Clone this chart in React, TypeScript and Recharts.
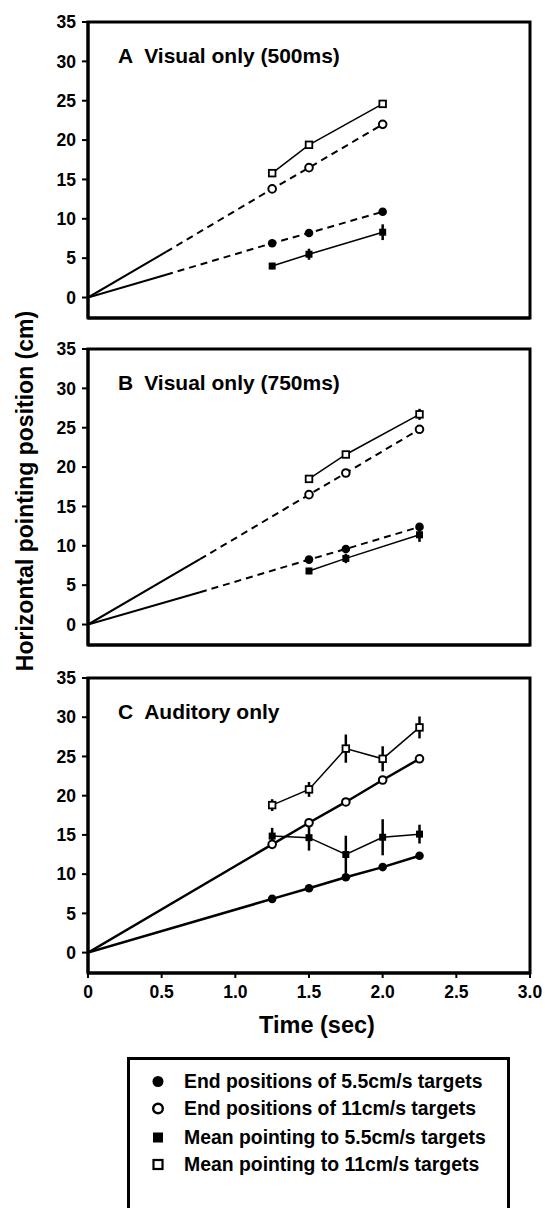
import React from 'react';
import {
  ScatterChart,
  Scatter,
  XAxis,
  YAxis,
  ErrorBar,
  ReferenceArea,
} from 'recharts';

// shared axes
const xTicks = [0, 0.5, 1.0, 1.5, 2.0, 2.5, 3.0];
const yTicks = [0, 5, 10, 15, 20, 25, 30, 35];
const yMin = -2.6;
const yMax = 35;

// A: Visual only (500ms)
const timesA = [1.25, 1.5, 2.0];
const endSlowA = [6.9, 8.2, 10.9];
const endFastA = [13.8, 16.5, 22.0];
const meanSlowA = [4.0, 5.5, 8.3];
const meanSlowErrA = [0.4, 0.7, 1.0];
const meanFastA = [15.8, 19.4, 24.6];
const meanFastErrA = [0.5, 0.3, 0.5];
const viewEndA = 0.53;
const viewSlowA = 2.9;
const viewFastA = 5.8;

// B: Visual only (750ms)
const timesB = [1.5, 1.75, 2.25];
const endSlowB = [8.25, 9.6, 12.4];
const endFastB = [16.5, 19.25, 24.8];
const meanSlowB = [6.8, 8.4, 11.4];
const meanSlowErrB = [0.4, 0.6, 0.9];
const meanFastB = [18.5, 21.6, 26.7];
const meanFastErrB = [0.3, 0.3, 0.7];
const viewEndB = 0.76;
const viewSlowB = 4.1;
const viewFastB = 8.3;

// C: Auditory only
const timesC = [1.25, 1.5, 1.75, 2.0, 2.25];
const endSlowC = [6.85, 8.2, 9.6, 10.9, 12.35];
const endFastC = [13.8, 16.55, 19.2, 22.0, 24.7];
const meanSlowC = [14.85, 14.65, 12.5, 14.7, 15.1];
const meanSlowErrC = [1.05, 1.65, 2.4, 2.3, 1.2];
const meanFastC = [18.8, 20.8, 26.0, 24.7, 28.7];
const meanFastErrC = [0.75, 0.95, 1.8, 1.6, 1.4];

const legendLabels = [
  'End positions of 5.5cm/s targets',
  'End positions of 11cm/s targets',
  'Mean pointing to 5.5cm/s targets',
  'Mean pointing to 11cm/s targets',
];

type Pt = { x: number; y: number; err?: number };
type MarkerKind = 'dot' | 'ring' | 'block' | 'box';

const FONT = '"Liberation Sans", Arial, Helvetica, sans-serif';

const pts = (xs: number[], ys: number[], errs?: number[]): Pt[] =>
  xs.map((x, i) => ({ x, y: ys[i], err: errs ? errs[i] : undefined }));

const marker = (kind: MarkerKind) => (props: any) => {
  const { cx, cy } = props;
  if (cx == null || cy == null) return <g />;
  if (kind === 'dot') return <circle cx={cx} cy={cy} r={4.3} fill="#000" />;
  if (kind === 'ring')
    return <circle cx={cx} cy={cy} r={3.8} fill="#fff" stroke="#000" strokeWidth={2} />;
  if (kind === 'block')
    return <rect x={cx - 3.5} y={cy - 3.5} width={7} height={7} fill="#000" />;
  return (
    <rect x={cx - 3.3} y={cy - 3.3} width={6.6} height={6.6} fill="#fff" stroke="#000" strokeWidth={1.8} />
  );
};

const noMarker = () => <g />;

interface LineDef {
  data: Pt[];
  width: number;
  dash?: string;
}

interface MarkDef {
  data: Pt[];
  kind: MarkerKind;
  line?: number;
  err?: boolean;
}

interface PanelProps {
  letter: string;
  title: string;
  top: number;
  plotHeight: number;
  showXLabels: boolean;
  lines: LineDef[];
  marks: MarkDef[];
}

const Panel: React.FC<PanelProps> = ({ letter, title, top, plotHeight, showXLabels, lines, marks }) => {
  const xAxisHeight = showXLabels ? 40 : 12;
  const height = 22 + plotHeight + xAxisHeight;
  const tickStyle = { fill: '#000', fontSize: 17.5, fontWeight: 700, fontFamily: FONT };

  return (
    <div style={{ position: 'absolute', left: 0, top, width: 545, height }}>
      <ScatterChart width={545} height={height} margin={{ top: 22, right: 15, bottom: 0, left: 0 }}>
        <XAxis
          type="number"
          dataKey="x"
          domain={[0, 3]}
          ticks={xTicks}
          allowDataOverflow
          interval={0}
          height={xAxisHeight}
          tickSize={5}
          tickMargin={8}
          axisLine={{ stroke: '#000', strokeWidth: 3 }}
          tickLine={{ stroke: '#000', strokeWidth: 2 }}
          tick={showXLabels ? tickStyle : false}
          tickFormatter={(v: number) => (v === 0 ? '0' : v.toFixed(1))}
        />
        <YAxis
          type="number"
          dataKey="y"
          domain={[yMin, yMax]}
          ticks={yTicks}
          allowDataOverflow
          interval={0}
          width={88}
          tickSize={6}
          tickMargin={6}
          axisLine={{ stroke: '#000', strokeWidth: 3 }}
          tickLine={{ stroke: '#000', strokeWidth: 2 }}
          tick={tickStyle}
        />
        <ReferenceArea
          x1={0}
          x2={3}
          y1={yMin}
          y2={yMax}
          fill="none"
          stroke="#000"
          strokeWidth={3}
          ifOverflow="visible"
        />
        {lines.map((l, i) => (
          <Scatter
            key={'l' + i}
            data={l.data}
            shape={noMarker}
            isAnimationActive={false}
            line={{ stroke: '#000', strokeWidth: l.width, strokeDasharray: l.dash }}
          />
        ))}
        {marks.map((m, i) => (
          <Scatter
            key={'m' + i}
            data={m.data}
            shape={marker(m.kind)}
            isAnimationActive={false}
            line={m.line ? { stroke: '#000', strokeWidth: m.line } : false}
          >
            {m.err && (
              <ErrorBar dataKey="err" direction="y" width={0} stroke="#000" strokeWidth={2.5} />
            )}
          </Scatter>
        ))}
      </ScatterChart>
      <div
        style={{
          position: 'absolute',
          left: 118,
          top: 44,
          height: 24,
          display: 'flex',
          alignItems: 'center',
          fontFamily: FONT,
          fontWeight: 700,
          fontSize: 21,
          whiteSpace: 'nowrap',
        }}
      >
        <span>{letter}</span>
        <span style={{ marginLeft: 11 }}>{title}</span>
      </div>
    </div>
  );
};

const LegendMarker: React.FC<{ kind: MarkerKind }> = ({ kind }) => (
  <svg width={14} height={14} style={{ display: 'block' }}>
    {kind === 'dot' && <circle cx={7} cy={7} r={5.5} fill="#000" />}
    {kind === 'ring' && <circle cx={7} cy={7} r={4.8} fill="#fff" stroke="#000" strokeWidth={2.4} />}
    {kind === 'block' && <rect x={2} y={2} width={10} height={10} fill="#000" />}
    {kind === 'box' && <rect x={2.5} y={2.5} width={9} height={9} fill="#fff" stroke="#000" strokeWidth={2.2} />}
  </svg>
);

const App: React.FC = () => {
  const origin: Pt = { x: 0, y: 0 };

  const linesA: LineDef[] = [
    { data: [origin, { x: viewEndA, y: viewSlowA }], width: 2 },
    { data: [origin, { x: viewEndA, y: viewFastA }], width: 2 },
    { data: [{ x: viewEndA, y: viewSlowA }, ...pts(timesA, endSlowA)], width: 2, dash: '7 5' },
    { data: [{ x: viewEndA, y: viewFastA }, ...pts(timesA, endFastA)], width: 2, dash: '7 5' },
  ];
  const marksA: MarkDef[] = [
    { data: pts(timesA, meanSlowA, meanSlowErrA), kind: 'block', line: 1.5, err: true },
    { data: pts(timesA, meanFastA, meanFastErrA), kind: 'box', line: 1.5, err: true },
    { data: pts(timesA, endSlowA), kind: 'dot' },
    { data: pts(timesA, endFastA), kind: 'ring' },
  ];

  const linesB: LineDef[] = [
    { data: [origin, { x: viewEndB, y: viewSlowB }], width: 2 },
    { data: [origin, { x: viewEndB, y: viewFastB }], width: 2 },
    { data: [{ x: viewEndB, y: viewSlowB }, ...pts(timesB, endSlowB)], width: 2, dash: '7 5' },
    { data: [{ x: viewEndB, y: viewFastB }, ...pts(timesB, endFastB)], width: 2, dash: '7 5' },
  ];
  const marksB: MarkDef[] = [
    { data: pts(timesB, meanSlowB, meanSlowErrB), kind: 'block', line: 1.5, err: true },
    { data: pts(timesB, meanFastB, meanFastErrB), kind: 'box', line: 1.5, err: true },
    { data: pts(timesB, endSlowB), kind: 'dot' },
    { data: pts(timesB, endFastB), kind: 'ring' },
  ];

  const linesC: LineDef[] = [
    { data: [origin, ...pts(timesC, endSlowC)], width: 2.5 },
    { data: [origin, ...pts(timesC, endFastC)], width: 2.5 },
  ];
  const marksC: MarkDef[] = [
    { data: pts(timesC, endSlowC), kind: 'dot' },
    { data: pts(timesC, endFastC), kind: 'ring' },
    { data: pts(timesC, meanSlowC, meanSlowErrC), kind: 'block', line: 1.5, err: true },
    { data: pts(timesC, meanFastC, meanFastErrC), kind: 'box', line: 1.5, err: true },
  ];

  const legendKinds: MarkerKind[] = ['dot', 'ring', 'block', 'box'];
  const legendRows = [1081, 1108, 1137, 1164];

  return (
    <div
      style={{
        position: 'absolute',
        left: 0,
        top: 0,
        width: 545,
        height: 1208,
        overflow: 'hidden',
        background: '#fff',
        fontFamily: FONT,
      }}
    >
      <Panel letter="A" title="Visual only (500ms)" top={0} plotHeight={296} showXLabels={false} lines={linesA} marks={marksA} />
      <Panel letter="B" title="Visual only (750ms)" top={327} plotHeight={296} showXLabels={false} lines={linesB} marks={marksB} />
      <Panel letter="C" title="Auditory only" top={656} plotHeight={295} showXLabels lines={linesC} marks={marksC} />

      {/* y axis title */}
      <div
        style={{
          position: 'absolute',
          left: 25,
          top: 491,
          transform: 'translate(-50%, -50%) rotate(-90deg)',
          fontWeight: 700,
          fontSize: 23,
          whiteSpace: 'nowrap',
        }}
      >
        Horizontal pointing position (cm)
      </div>

      {/* x axis title */}
      <div
        style={{
          position: 'absolute',
          left: 317,
          top: 1025,
          transform: 'translate(-50%, -50%)',
          fontWeight: 700,
          fontSize: 23.5,
          whiteSpace: 'nowrap',
        }}
      >
        Time (sec)
      </div>

      {/* legend */}
      <div
        style={{
          position: 'absolute',
          left: 127,
          top: 1057,
          width: 383,
          height: 200,
          border: '3px solid #000',
          boxSizing: 'border-box',
        }}
      />
      {legendLabels.map((label, i) => (
        <div
          key={label}
          style={{
            position: 'absolute',
            left: 151,
            top: legendRows[i],
            transform: 'translateY(-50%)',
            display: 'flex',
            alignItems: 'center',
            fontWeight: 700,
            fontSize: 19.4,
            whiteSpace: 'nowrap',
          }}
        >
          <LegendMarker kind={legendKinds[i]} />
          <span style={{ marginLeft: 19 }}>{label}</span>
        </div>
      ))}
    </div>
  );
};

export default App;
